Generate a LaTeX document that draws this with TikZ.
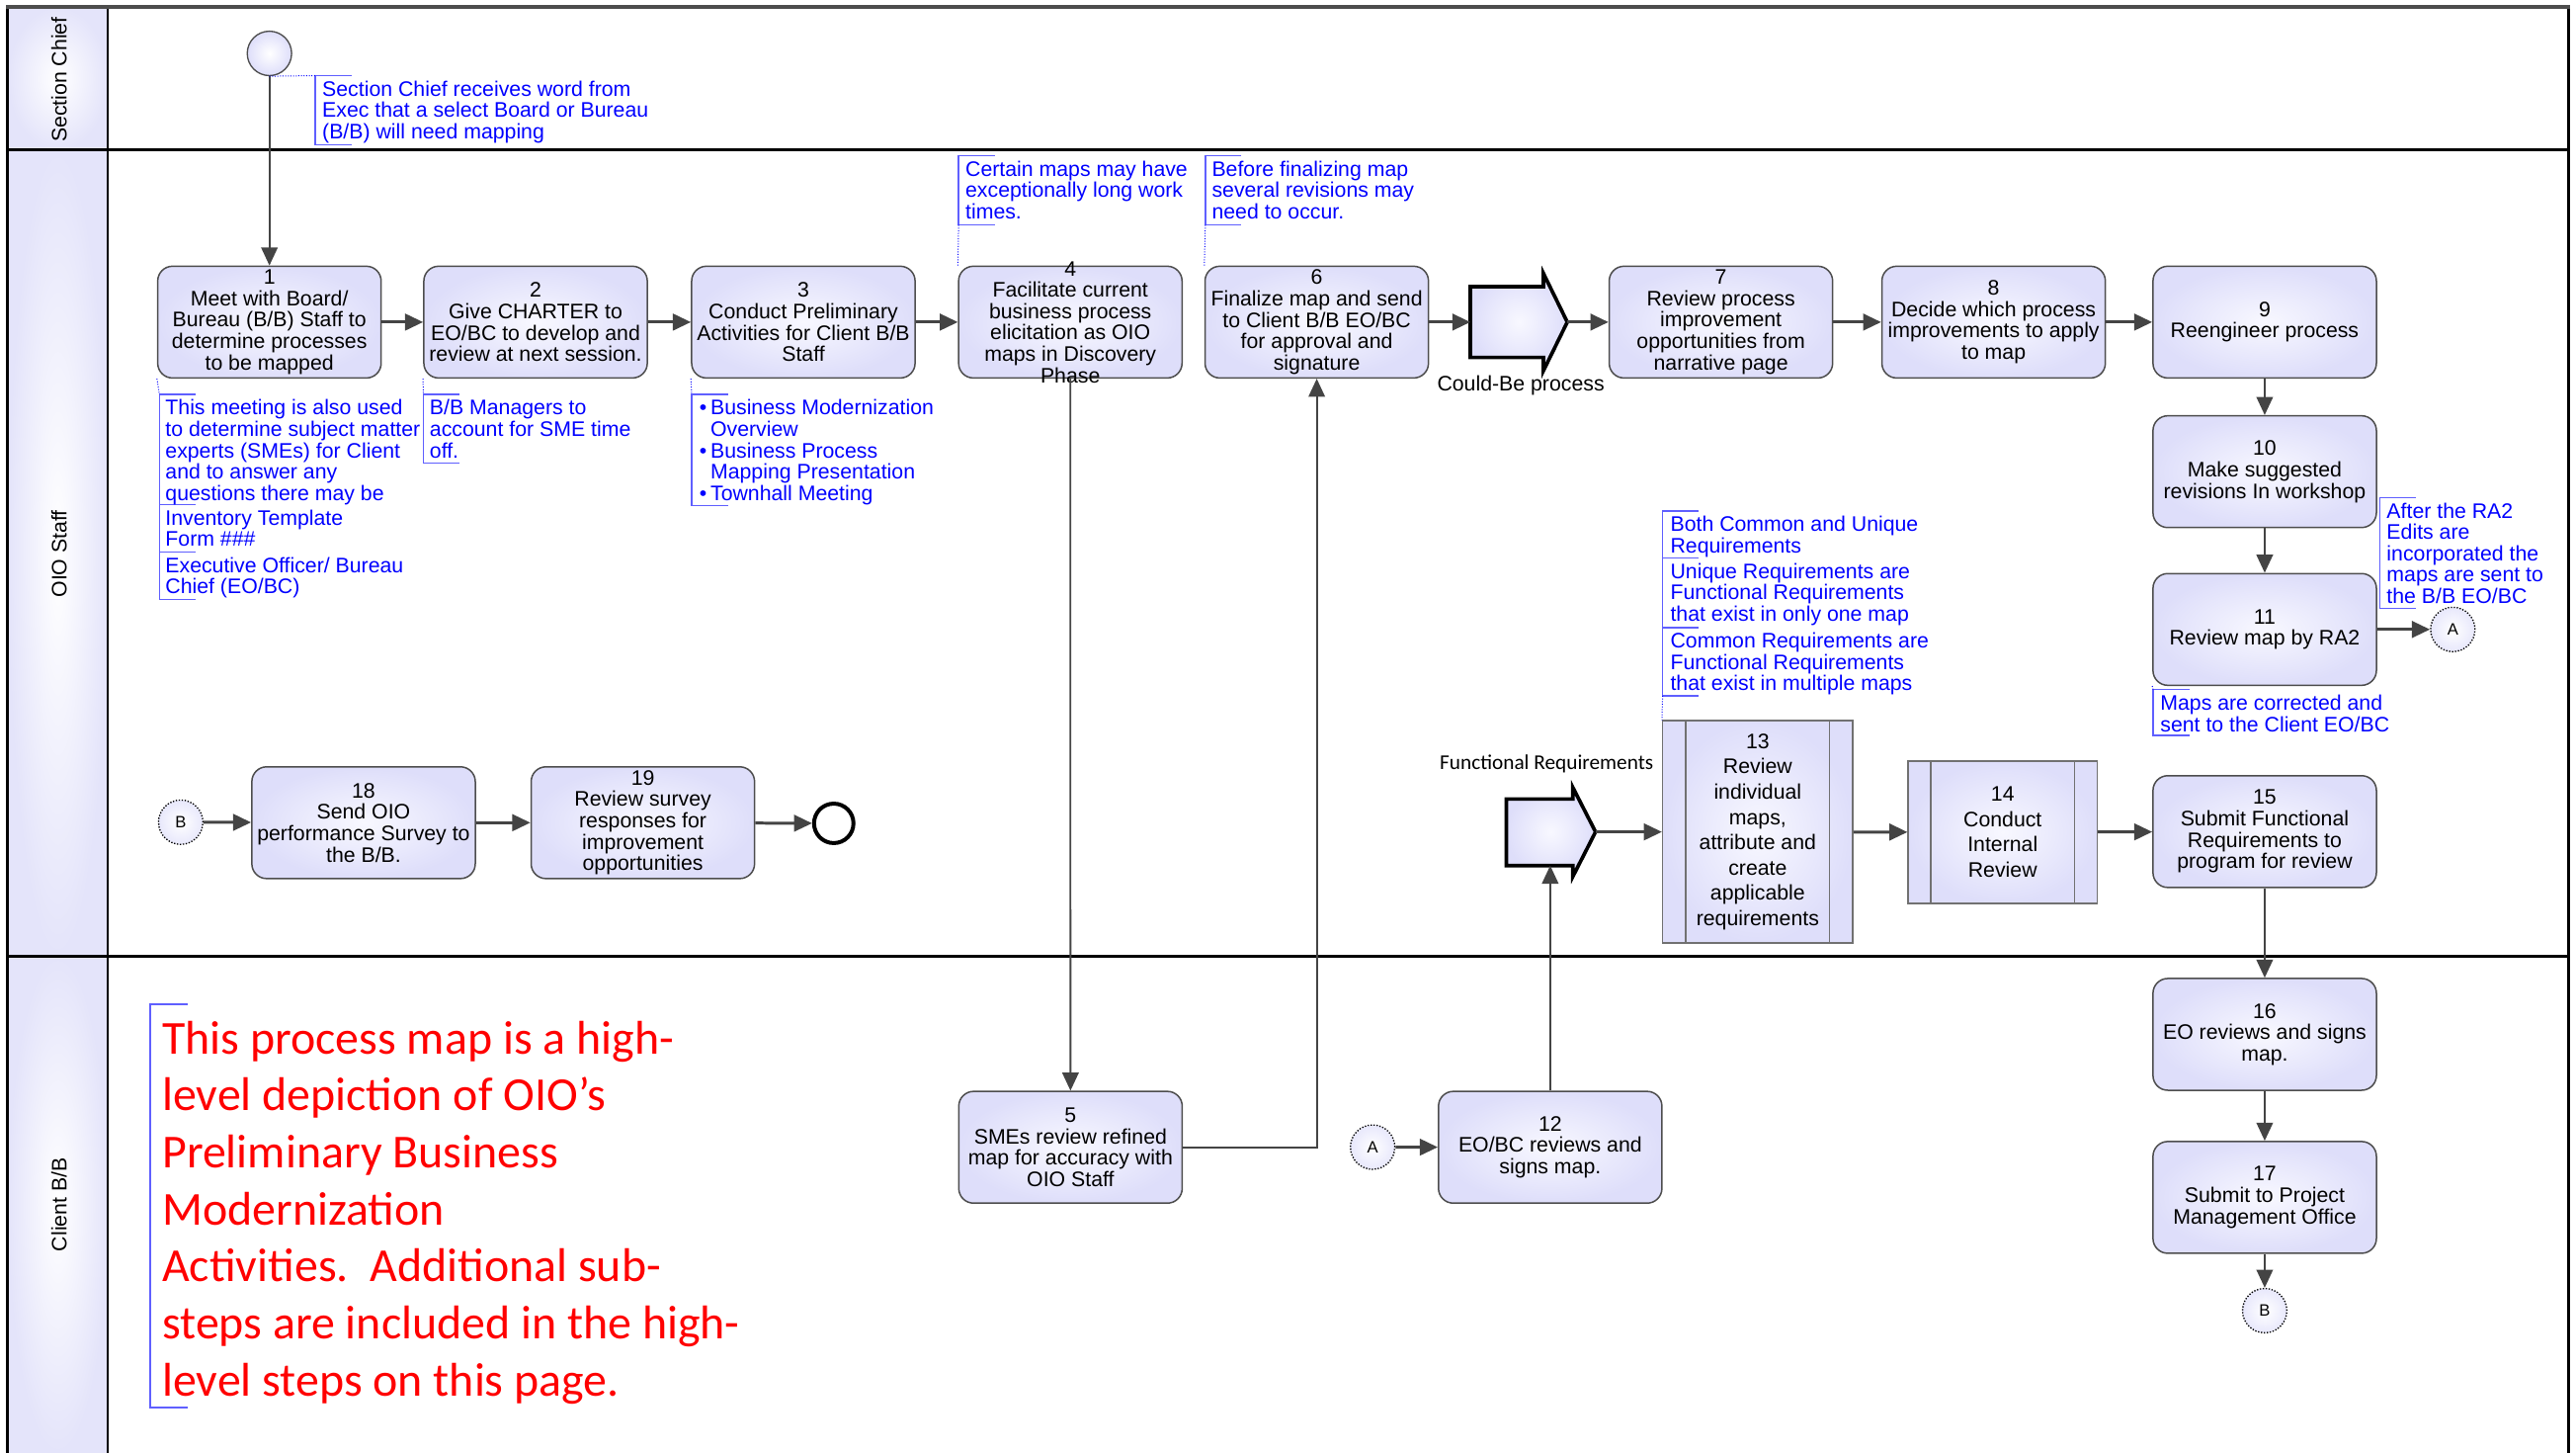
\documentclass[tikz,border=0pt]{standalone}
\usepackage{fontspec}
\setmainfont{Liberation Sans}
\newfontfamily\calib{Carlito}
\usetikzlibrary{arrows.meta,calc}

\definecolor{lav}{RGB}{222,222,250}
\definecolor{lavin}{RGB}{248,248,255}
\definecolor{hdr}{RGB}{228,228,250}
\definecolor{edge}{RGB}{77,77,77}
\definecolor{arr}{RGB}{68,68,68}
\definecolor{anno}{RGB}{0,0,255}
\definecolor{brk}{RGB}{95,95,255}
\definecolor{redtxt}{RGB}{255,0,0}

\tikzset{
 task/.style={draw=edge, line width=0.9pt, rounded corners=9pt, inner color=lavin, outer color=lav,
   minimum width=136pt, minimum height=68pt, inner sep=0pt, align=center, font=\fontsize{12.8}{13}\selectfont},
 tasktext/.style={inner sep=0pt, align=center, font=\fontsize{12.8}{13}\selectfont},
 subproc/.style={draw=edge!80, line width=0.9pt, inner color=lavin, outer color=lav, inner sep=0pt,
   align=center, font=\fontsize{12.8}{15.4}\selectfont},
 flow/.style={draw=arr, line width=1.8pt, -{Triangle[length=11pt,width=10pt]}},
 flowthin/.style={draw=arr, line width=1.1pt, -{Triangle[length=11pt,width=10pt]}},
 annot/.style={anchor=north west, inner sep=0pt, align=left, text=anno, font=\fontsize{12.8}{13}\selectfont},
 bracket/.style={draw=brk, line width=0.9pt},
 dotc/.style={draw=anno, line width=0.6pt, densely dotted},
 offpage/.style={circle, draw=black, densely dotted, line width=0.8pt, minimum size=27pt, inner sep=0pt,
   inner color=white, outer color=lav!70, font=\fontsize{10}{10}\selectfont},
 lanelabel/.style={rotate=90, inner sep=0pt, font=\fontsize{12.8}{13}\selectfont},
 blockarrow/.style={draw=black, line width=2.2pt, line join=miter, inner color=lavin, outer color=lav},
}
\newcommand\annbr[4]{\draw[bracket] ({#1+#4},#2) -- (#1,#2) -- (#1,#3) -- ({#1+#4},#3);}

\begin{document}
\begin{tikzpicture}[x=1pt,y=-1pt]
\useasboundingbox (0,0) rectangle (1568,884);

% lane headers
\fill[inner color=white, outer color=hdr] (4.8,4.4) rectangle (65.6,91.4);
\fill[inner color=white, outer color=hdr] (4.8,91.4) rectangle (65.6,581.8);
\fill[inner color=white, outer color=hdr] (4.8,581.8) rectangle (65.6,884);
\node[lanelabel] (lsc) at (36,48.5) {Section Chief};
\node[lanelabel] (loio) at (36,337) {OIO Staff};
\node[lanelabel] (lcl) at (36,733) {Client B/B};

% frame
\draw[black, line width=1.8pt] (4.8,884) -- (4.8,4.4);
\draw[black, line width=1.8pt] (1563.3,4.4) -- (1563.3,884);
\draw[black, line width=1.6pt] (65.6,4.4) -- (65.6,884);
\draw[black, line width=1.8pt] (4.8,91.4) -- (1563.3,91.4);
\draw[black, line width=1.8pt] (4.8,581.8) -- (1563.3,581.8);
\draw[edge, line width=2.2pt] (3.9,4.4) -- (1564.2,4.4);

% start event
\node[circle, draw=edge, line width=0.8pt, minimum size=27pt, inner sep=0pt, inner color=white, outer color=lav] (start) at (164,32.5) {};

% top row
\node[task] (n1) at (164,196) {1\\Meet with Board/\\Bureau (B/B) Staff to\\determine processes\\to be mapped};
\node[task] (n2) at (326,196) {2\\Give CHARTER to\\EO/BC to develop and\\review at next session.};
\node[task] (n3) at (489,196) {3\\Conduct Preliminary\\Activities for Client B/B\\Staff};
\node[task] (n4) at (651.5,196) {};
\node[tasktext] (n4t) at (n4.center) {4\\Facilitate current\\business process\\elicitation as OIO\\maps in Discovery\\Phase};
\node[task] (n6) at (801.5,196) {6\\Finalize map and send\\to Client B/B EO/BC\\for approval and\\signature};
\node[task] (n7) at (1047.5,196) {7\\Review process\\improvement\\opportunities from\\narrative page};
\node[task] (n8) at (1213.5,196) {8\\Decide which process\\improvements to apply\\to map};
\node[task] (n9) at (1378.5,196) {9\\Reengineer process};
\node[task] (n10) at (1378.5,287) {10\\Make suggested\\revisions In workshop};
\node[task] (n11) at (1378.5,383) {11\\Review map by RA2};
\node[task] (n15) at (1378.5,506) {15\\Submit Functional\\Requirements to\\program for review};
\node[task] (n16) at (1378.5,629.4) {16\\EO reviews and signs\\map.};
\node[task] (n17) at (1378.5,728.6) {17\\Submit to Project\\Management Office};
\node[task] (n18) at (221.3,500.6) {18\\Send OIO\\performance Survey to\\the B/B.};
\node[task] (n19) at (391.3,500.6) {19\\Review survey\\responses for\\improvement\\opportunities};
\node[task] (n5) at (651.6,698.1) {5\\SMEs review refined\\map for accuracy with\\OIO Staff};
\node[task] (n12) at (943.6,698.1) {12\\EO/BC reviews and\\signs map.};

% sub-process boxes
\node[subproc, minimum width=115.7pt, minimum height=135.2pt] (n13) at (1069.9,506.2) {13\\Review\\individual\\maps,\\attribute and\\create\\applicable\\requirements};
\draw[edge!80, line width=0.9pt] ([xshift=14.4pt]n13.north west) -- ([xshift=14.4pt]n13.south west);
\draw[edge!80, line width=0.9pt] ([xshift=-14.6pt]n13.north east) -- ([xshift=-14.6pt]n13.south east);
\node[subproc, minimum width=115pt, minimum height=86.6pt] (n14) at (1219,506.4) {14\\Conduct\\Internal\\Review};
\draw[edge!80, line width=0.9pt] ([xshift=14.3pt]n14.north west) -- ([xshift=14.3pt]n14.south west);
\draw[edge!80, line width=0.9pt] ([xshift=-14.3pt]n14.north east) -- ([xshift=-14.3pt]n14.south east);

% block arrows
\path[blockarrow] (895,174.4) -- (939.5,174.4) -- (939.5,166.4) -- (954,196) -- (939.5,225.5) -- (939.5,217.5) -- (895,217.5) -- cycle;
\coordinate (cbtail) at (895,196);
\coordinate (cbtip) at (954,196);
\node[inner sep=0pt, font=\fontsize{12.8}{13}\selectfont] (cblabel) at (925.7,234.5) {Could-Be process};

\path[blockarrow] (916.9,486.2) -- (957.4,486.2) -- (957.4,479.2) -- (971.2,506.2) -- (957.4,533.3) -- (957.4,526.7) -- (916.9,526.7) -- cycle;
\coordinate (frtip) at (971.2,506.2);
\coordinate (frbot) at (943.6,526.7);
\node[inner sep=0pt, font=\calib\fontsize{12.8}{13}\selectfont] (frlabel) at (941.4,464.7) {Functional Requirements};

% off-page connectors and end
\node[offpage] (a1) at (1493,383) {A};
\node[offpage] (a2) at (835.5,698) {A};
\node[offpage] (b1) at (1378.5,797.5) {B};
\node[offpage] (b2) at (110,500.3) {B};
\node[circle, draw=black, line width=2.4pt, minimum size=24pt, inner sep=0pt, fill=white] (endev) at (507.5,501) {};

% flows
\draw[flowthin] (start) -- (n1);
\draw[flow] (n1) -- (n2);
\draw[flow] (n2) -- (n3);
\draw[flow] (n3) -- (n4);
\draw[flowthin] (n4) -- (n5);
\draw[flowthin] (n5.east) -| (n6.south);
\draw[flow] (n6) -- (cbtail);
\draw[flow] (cbtip) -- (n7);
\draw[flow] (n7) -- (n8);
\draw[flow] (n8) -- (n9);
\draw[flowthin] (n9) -- (n10);
\draw[flowthin] (n10) -- (n11);
\draw[flow] (n11) -- (a1);
\draw[flow] (a2) -- (n12);
\draw[flowthin] (n12.north) -- (n12.north |- frbot);
\draw[flow] (frtip) -- (n13);
\draw[flow] (n13) -- (n14);
\draw[flow] (n14) -- (n15);
\draw[flowthin] (n15) -- (n16);
\draw[flowthin] (n16) -- (n17);
\draw[flowthin] (n17) -- (b1);
\draw[flow] (b2) -- (n18);
\draw[flow] (n18) -- (n19);
\draw[flow] (n19) -- (endev);

% annotations
\annbr{192}{46}{88}{22}
\node[annot] (tsc) at (196,49) {Section Chief receives word from\\Exec that a select Board or Bureau\\(B/B) will need mapping};
\coordinate (bsc) at (192,46);
\draw[dotc] (start.south) -- (bsc);

\annbr{583.5}{94.6}{136.7}{22}
\node[annot] (t4) at (587.5,97.6) {Certain maps may have\\exceptionally long work\\times.};
\coordinate (b4) at (583.5,136.7);
\draw[dotc] (n4.north west) -- (b4);

\annbr{733.7}{94.6}{136.7}{22}
\node[annot] (t6) at (737.5,97.6) {Before finalizing map\\several revisions may\\need to occur.};
\coordinate (b6) at (733.7,136.7);
\draw[dotc] (n6.north west) -- (b6);

\annbr{97}{240}{307}{22}
\annbr{97}{307}{335.8}{22}
\annbr{97}{335.8}{364.9}{22}
\node[annot] (t1a) at (100.5,243) {This meeting is also used\\to determine subject matter\\experts (SMEs) for Client\\and to answer any\\questions there may be};
\node[annot] (t1b) at (100.5,310) {Inventory Template\\Form \#\#\#};
\node[annot] (t1c) at (100.5,338.8) {Executive Officer/ Bureau\\Chief (EO/BC)};
\coordinate (b1a) at (97,240);
\draw[dotc] (n1.south west) -- (b1a);

\annbr{257.6}{240}{281.7}{22}
\node[annot] (t2) at (261.4,243) {B/B Managers to\\account for SME time\\off.};
\coordinate (b2a) at (257.6,240);
\draw[dotc] (n2.south west) -- (b2a);

\annbr{421}{240}{307.6}{22}
\node[annot] (t3) at (425.5,243) {\makebox[6.8pt][l]{•}Business Modernization\\\hspace*{6.8pt}Overview\\\makebox[6.8pt][l]{•}Business Process\\\hspace*{6.8pt}Mapping Presentation\\\makebox[6.8pt][l]{•}Townhall Meeting};
\coordinate (b3a) at (421,240);
\draw[dotc] (n3.south west) -- (b3a);

\annbr{1448.6}{302.7}{370.3}{22}
\node[annot] (t10) at (1452.6,305.7) {After the RA2\\Edits are\\incorporated the\\maps are sent to\\the B/B EO/BC};

\annbr{1310.6}{419.6}{447.5}{22}
\node[annot] (t11) at (1314.8,422.6) {Maps are corrected and\\sent to the Client EO/BC};
\coordinate (b11) at (1310.6,419.6);
\draw[dotc] (n11.south west) -- (b11);

\annbr{1012}{310.8}{339.4}{22}
\annbr{1012}{339.4}{381.9}{22}
\annbr{1012}{381.9}{423.4}{22}
\node[annot] (t13a) at (1016.6,313.8) {Both Common and Unique\\Requirements};
\node[annot] (t13b) at (1016.6,342.4) {Unique Requirements are\\Functional Requirements\\that exist in only one map};
\node[annot] (t13c) at (1016.6,384.9) {Common Requirements are\\Functional Requirements\\that exist in multiple maps};
\coordinate (b13) at (1012,423.4);
\draw[dotc] (b13) -- (n13.north west);

% red note
\annbr{91.4}{611}{856.5}{23}
\node[anchor=north west, inner sep=0pt, align=left, text=redtxt, font=\calib\fontsize{28.8}{34.7}\selectfont] (note) at (98.6,621) {This process map is a high-\\level depiction of OIO’s\\Preliminary Business\\Modernization\\Activities.\ \ Additional sub-\\steps are included in the high-\\level steps on this page.};
\end{tikzpicture}
\end{document}
